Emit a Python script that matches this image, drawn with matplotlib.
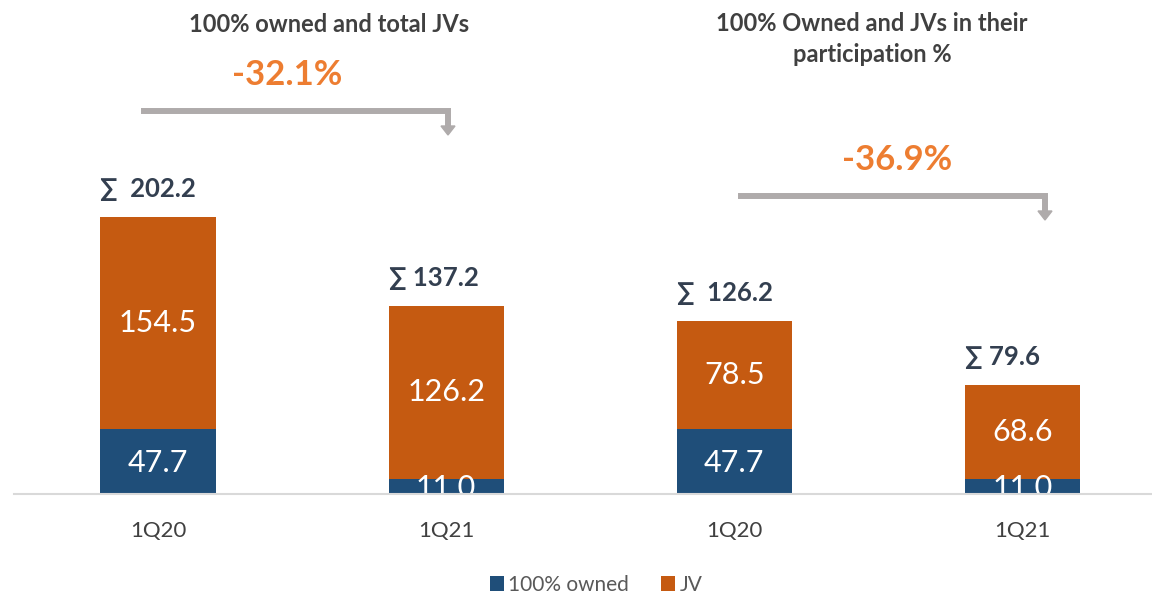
import matplotlib.pyplot as plt
from matplotlib.patches import Polygon
from matplotlib.lines import Line2D

categories = ["1Q20", "1Q21", "1Q20", "1Q21"]
owned = [47.7, 11.0, 47.7, 11.0]
jv = [154.5, 126.2, 78.5, 68.6]
totals = [202.2, 137.2, 126.2, 79.6]
total_labels = ["\u2211  202.2", "\u2211 137.2", "\u2211  126.2", "\u2211 79.6"]
changes = ["-32.1%", "-36.9%"]
titles = ["100% owned and total JVs", "100% Owned and JVs in their\nparticipation %"]

navy = '#1F4E79'
orange = '#C55A11'
fam = ['Lato', 'DejaVu Sans']

W, H = 1152, 594
fig = plt.figure(figsize=(W / 100, H / 100), dpi=100)
ax = fig.add_axes([14 / W, (H - 494) / H, 1 - 14 / W, 494 / H])

x = list(range(len(categories)))
ax.bar(x, owned, width=0.4, color=navy, label='100% owned', zorder=2)
ax.bar(x, jv, width=0.4, bottom=owned, color=orange, label='JV', zorder=2)

for i in x:
    ax.text(i, owned[i] / 2 - 1, f"{owned[i]:.1f}", ha='center', va='center',
            color='white', fontsize=22, family=fam, zorder=3)
    ax.text(i, owned[i] + jv[i] / 2, f"{jv[i]:.1f}", ha='center', va='center',
            color='white', fontsize=22, family=fam, zorder=3)
    ax.text(i - 0.2, totals[i] + 20, total_labels[i], ha='left', va='center',
            color='#333F50', fontsize=18.5, fontweight='bold', family=fam)
    ax.text(i, -27, categories[i], ha='center', va='center', color='#404040',
            fontsize=16, family=fam)

ax.set_xlim(-0.5, 3.45)
ax.set_ylim(0, 360)
for s in ['top', 'right', 'left']:
    ax.spines[s].set_visible(False)
ax.spines['bottom'].set_color('#D9D9D9')
ax.spines['bottom'].set_linewidth(1.5)
ax.spines['bottom'].set_zorder(4)
ax.set_xticks([])
ax.set_yticks([])
ax.patch.set_alpha(0)

# titles
fig.text(329 / W, 1 - 24 / H, titles[0], ha='center', va='center', fontsize=17,
         fontweight='bold', color='#404040', family=fam)
fig.text(872 / W, 1 - 39 / H, titles[1], ha='center', va='center', fontsize=17,
         fontweight='bold', color='#404040', family=fam, linespacing=1.45)

# change labels and bracket arrows
for txt, (tx, ty), (x0, x1, y0) in zip(changes, [(287, 75), (897, 160)],
                                       [(144, 448, 111), (741, 1045, 196)]):
    fig.text(tx / W, 1 - ty / H, txt, ha='center', va='center', fontsize=25,
             fontweight='bold', color='#ED7D31', family=fam)
    fig.add_artist(Line2D([x0 / W, x1 / W, x1 / W],
                          [1 - y0 / H, 1 - y0 / H, 1 - (y0 + 16) / H],
                          color='#AFABAB', linewidth=4.3, solid_joinstyle='miter',
                          transform=fig.transFigure))
    fig.add_artist(Polygon([[(x1 - 7) / W, 1 - (y0 + 15) / H],
                            [(x1 + 7) / W, 1 - (y0 + 15) / H],
                            [x1 / W, 1 - (y0 + 24) / H]],
                           closed=True, color='#AFABAB', transform=fig.transFigure))

leg = fig.legend(loc='center', bbox_to_anchor=(596 / W, 1 - 585 / H), ncol=2,
                 frameon=False, handlelength=0.7, handleheight=0.7,
                 handletextpad=0.2, columnspacing=1.5,
                 prop={'family': fam, 'size': 15})
for t in leg.get_texts():
    t.set_color('#595959')

fig.savefig('out.png', dpi=100)
